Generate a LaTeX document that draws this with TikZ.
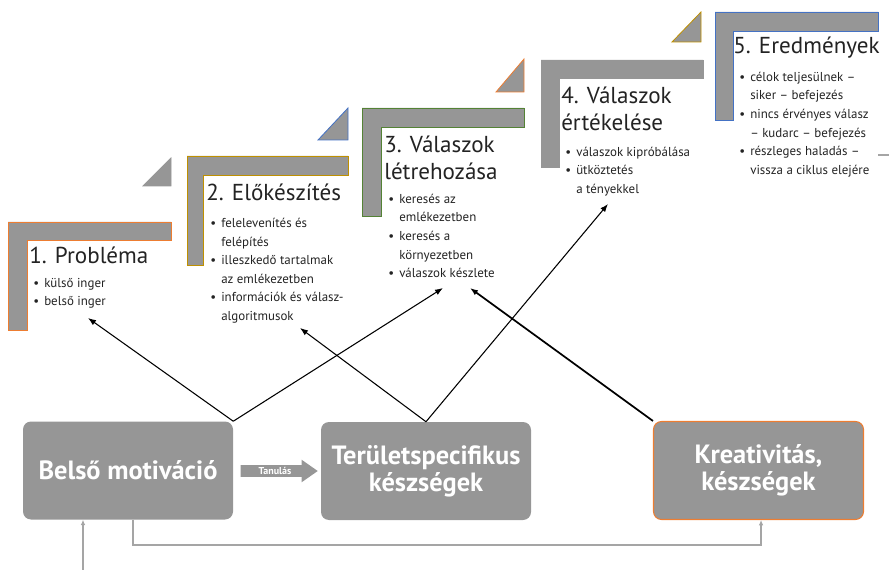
\documentclass[tikz,border=0pt]{standalone}
\usepackage{fontspec}
\setmainfont{PT Sans}
\usetikzlibrary{arrows.meta,shapes.arrows}

\definecolor{boxgray}{RGB}{150,150,150}
\definecolor{linegray}{RGB}{165,165,165}
\definecolor{txtdark}{RGB}{35,35,35}
\definecolor{edgeorange}{RGB}{237,125,49}
\definecolor{edgegold}{RGB}{191,144,0}
\definecolor{edgegreen}{RGB}{84,130,53}
\definecolor{edgeblue}{RGB}{68,114,196}

\newcommand{\bul}{\strut\makebox[8.25pt][l]{\textbullet}}
\newcommand{\ind}{\strut\hspace*{8.25pt}}

\tikzset{
  frame/.style={fill=boxgray, line width=0.6pt},
  title/.style={anchor=north west, inner sep=0pt, align=left, text=txtdark, font=\fontsize{17.3}{20.5}\selectfont},
  list/.style={anchor=north west, inner sep=0pt, align=left, text=txtdark, font=\fontsize{9.7}{14}\selectfont},
  block/.style={fill=boxgray, rounded corners=6pt, minimum width=157.5pt, minimum height=73.5pt, align=center, text=white, font=\bfseries\fontsize{19.8}{20.5}\selectfont},
  link/.style={-{Latex[length=6pt,width=4.5pt]}, black, line width=0.8pt},
  feed/.style={-{Latex[length=4pt,width=3.5pt]}, linegray, line width=1.5pt}
}

\begin{document}
\begin{tikzpicture}[x=0.75pt, y=-0.75pt]
    \useasboundingbox (0,0) rectangle (889,570);

    % Step frames (stairs)
    \draw[frame, draw=edgeorange] (8,222) -- (171,222) -- (171,240) -- (27,240) -- (27,330) -- (8,330) -- cycle;
    \draw[frame, draw=edgegold] (187,156) -- (348,156) -- (348,175) -- (203,175) -- (203,265) -- (187,265) -- cycle;
    \draw[frame, draw=edgegreen] (362,108) -- (524,108) -- (524,127) -- (381,127) -- (381,216) -- (362,216) -- cycle;
    \draw[frame, draw=boxgray] (541,60) -- (703,60) -- (703,78) -- (559,78) -- (559,167) -- (541,167) -- cycle;
    \draw[frame, draw=edgeblue] (715,12) -- (878,12) -- (878,31) -- (733,31) -- (733,120) -- (715,120) -- cycle;

    % Corner triangles between the steps
    \draw[frame, draw=boxgray] (143,186) -- (171,186) -- (171,158) -- cycle;
    \draw[frame, draw=edgeblue] (318,140) -- (348,140) -- (348,108) -- cycle;
    \draw[frame, draw=edgeorange] (496,92) -- (524,92) -- (524,59) -- cycle;
    \draw[frame, draw=edgegold] (672,42) -- (701,42) -- (701,12) -- cycle;
    \draw[linegray, line width=1.5pt] (878,155) -- (889,155);

    % Step titles
    \node[title] (title1) at (29,244) {\strut 1. Probléma};
    \node[title] (title2) at (206,181) {\strut 2. Előkészítés};
    \node[title] (title3) at (384,133) {\strut 3. Válaszok\\\strut létrehozása};
    \node[title] (title4) at (561,84) {\strut 4. Válaszok\\\strut értékelése};
    \node[title] (title5) at (733,34) {\strut 5. Eredmények};

    % Step contents
    \node[list] (list1) at (33,274) {\bul külső inger\\\bul belső inger};
    \node[list] (list2) at (210,214) {\bul felelevenítés és\\\ind felépítés\\\bul illeszkedő tartalmak\\\ind az emlékezetben\\\bul információk és válasz-\\\ind algoritmusok};
    \node[list] (list3) at (388,190) {\bul keresés az\\\ind emlékezetben\\\bul keresés a\\\ind környezetben\\\bul válaszok készlete};
    \node[list] (list4) at (565,143) {\bul válaszok kipróbálása\\\bul ütköztetés\\\ind a tényekkel};
    \node[list] (list5) at (739,68) {\bul célok teljesülnek –\\\ind siker – befejezés\\\bul nincs érvényes válasz\\\ind – kudarc – befejezés\\\bul részleges haladás –\\\ind vissza a ciklus elejére};

    % Bottom blocks
    \node[block] (motiv) at (128,470.5) {Belső motiváció};
    \node[block] (skills) at (426,471) {Területspecifikus\\készségek};
    \node[block, draw=edgeorange, line width=0.8pt] (creat) at (758.5,470.5) {Kreativitás,\\készségek};
    \node[single arrow, fill=boxgray, minimum height=57.75pt, single arrow head extend=4pt, single arrow tip angle=70, inner sep=1.5pt, text=white, font=\bfseries\fontsize{7.5}{8}\selectfont] (learn) at (275,471) {Tanulás};

    % Arrow targets in the step texts
    \coordinate (tip1) at (88,318);
    \coordinate (tip2) at (300,328);
    \coordinate (tip3a) at (443,288);
    \coordinate (tip3b) at (470,288);
    \coordinate (tip4) at (608,204);
    \coordinate (src) at (83,570);

    % Links from the blocks to the steps
    \draw[link] (motiv.north east) -- (tip1);
    \draw[link] (motiv.north east) -- (tip3a);
    \draw[link] (skills.north) -- (tip2);
    \draw[link] (skills.north) -- (tip4);
    \draw[link, line width=1.3pt] (creat.north west) -- (tip3b);

    % Gray feed lines
    \draw[feed] (src) -- (src |- motiv.south);
    \draw[feed] ([xshift=3.75pt]motiv.south) -- ++(0,25) -| ([xshift=1.9pt]creat.south);
\end{tikzpicture}
\end{document}
